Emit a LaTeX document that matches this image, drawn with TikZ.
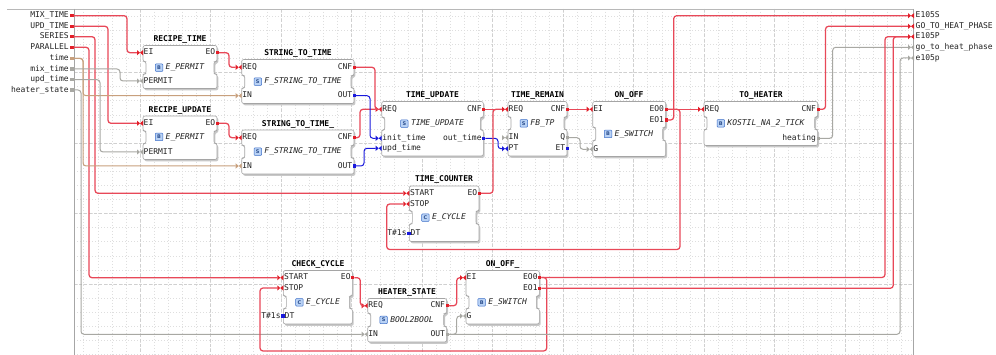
\documentclass[tikz,border=0pt]{standalone}
\usepackage{fontspec}
\setmonofont{DejaVu Sans Mono}
\setsansfont{DejaVu Sans}
\usetikzlibrary{calc}
\definecolor{evc}{RGB}{226,30,40}
\definecolor{evw}{RGB}{232,72,88}
\definecolor{blc}{RGB}{25,25,220}
\definecolor{grc}{RGB}{168,168,163}
\definecolor{tnc}{RGB}{200,160,125}
\definecolor{txt}{RGB}{35,35,35}
\definecolor{boxc}{RGB}{165,165,165}
\definecolor{shc}{RGB}{200,200,200}
\definecolor{iconf}{RGB}{185,210,245}
\definecolor{icond}{RGB}{60,110,200}
\definecolor{gridc}{RGB}{222,222,222}
\definecolor{gridm}{RGB}{208,208,208}

\newcommand\fbshape[6]{%
 \begin{scope}[shift={(1.4,1.8)}]
 \fill[shc,rounded corners=2] (#1,#3) -- (#2,#3) -- (#2,#4) -- ({#2-3},#4) -- ({#2-3},#5) -- (#2,#5) -- (#2,#6) -- (#1,#6) -- (#1,#5) -- ({#1+3},#5) -- ({#1+3},#4) -- (#1,#4) -- cycle;
 \end{scope}
 \filldraw[fill=white,draw=boxc,line width=0.6,rounded corners=2] (#1,#3) -- (#2,#3) -- (#2,#4) -- ({#2-3},#4) -- ({#2-3},#5) -- (#2,#5) -- (#2,#6) -- (#1,#6) -- (#1,#5) -- ({#1+3},#5) -- ({#1+3},#4) -- (#1,#4) -- cycle;}
\newcommand\fbtie[3]{%
 \fill[#1] ({#2-6},{#3-2.6}) -- ({#2-3},#3) -- ({#2-6},{#3+2.6}) -- cycle;
 \fill[#1] ({#2},{#3-2.6}) -- ({#2-3},#3) -- ({#2},{#3+2.6}) -- cycle;}
\newcommand\pin[5]{%
 \fbtie{#1}{#3}{#4}
 \coordinate (#2) at ({#3-6},#4);
 \node[plab,anchor=west] (#2-l) at ({#3+0.5},#4) {#5};}
\newcommand\pout[5]{%
 \fill[#1] ({#3-1.2},{#4-1.7}) rectangle ({#3+2},{#4+1.7});
 \coordinate (#2) at ({#3+2},#4);
 \node[plab,anchor=east] (#2-l) at ({#3-1.5},#4) {#5};}
\newcommand\pconst[4]{%
 \fill[blc] ({#2-2},{#3-1.7}) rectangle ({#2+1.2},{#3+1.7});
 \node[plab,anchor=west] (#1-l) at ({#2+1.2},#3) {DT};
 \node[plab,anchor=east] (#1-c) at ({#2-2.5},#3) {#4};}
\newcommand\fbtype[5]{%
 \node[ftype] (#1) at ({#2+5},#3) {#5};
 \node[ficon,anchor=east] (#1-i) at ([xshift=-2.5pt]#1.west) {#4};}
\newcommand\ifin[4]{%
 \fill[#1] (70.3,{#3-1.7}) rectangle (73.5,{#3+1.7});
 \coordinate (#2) at (73.5,#3);
 \node[plab,anchor=east] (#2-l) at (69,#3) {#4};}
\newcommand\ifout[4]{%
 \fbtie{#1}{914}{#3}
 \coordinate (#2) at (908,#3);
 \node[plab,anchor=west] (#2-l) at (915.5,#3) {#4};}

\tikzset{
 plab/.style={font=\ttfamily\fontsize{8}{8}\selectfont, inner sep=0, text=txt, text height=5.8pt, text depth=1.4pt},
 fbtitle/.style={font=\ttfamily\bfseries\fontsize{8}{8}\selectfont, inner sep=0, text=black},
 ftype/.style={font=\ttfamily\itshape\fontsize{8}{8}\selectfont, inner sep=0, text=txt, text height=5.8pt, text depth=1.4pt},
 ficon/.style={draw=icond, fill=iconf, rounded corners=0.8, minimum width=7.5, minimum height=7.5, inner sep=0, line width=0.5, font=\sffamily\bfseries\fontsize{5}{5}\selectfont, text=icond!70!black},
 ev/.style={draw=evw, line width=1.25, rounded corners=3},
 bl/.style={draw=blc, line width=1, rounded corners=3},
 gr/.style={draw=grc, line width=1, rounded corners=3},
 tn/.style={draw=tnc, line width=1, rounded corners=3},
 minorg/.style={draw=gridc, line width=0.4, dash pattern=on 1pt off 2pt},
 majorg/.style={draw=gridm, line width=0.45, dash pattern=on 3pt off 2pt},
}

\begin{document}
\begin{tikzpicture}[x=1pt,y=-1pt]
\fill[white] (0,0) rectangle (996,355);
\useasboundingbox (0,0) rectangle (996,355);
% grid
\begin{scope}
\clip (74,9) rectangle (913,355);
\foreach \i in {0,...,60} { \draw[minorg] ({69.5+14.1*\i},9) -- ({69.5+14.1*\i},355); }
\foreach \i in {0,...,25} { \draw[minorg] (74,{2+14.1*\i}) -- (913,{2+14.1*\i}); }
\foreach \i in {0,...,12} { \draw[majorg] ({69.5+70.5*\i},9) -- ({69.5+70.5*\i},355); }
\foreach \i in {1,...,4} { \draw[majorg] (74,{2+70.5*\i}) -- (913,{2+70.5*\i}); }
\end{scope}
\draw[black!28, line width=0.6] (7,9) -- (913,9);
\draw[black!35, line width=0.6] (74,9) -- (74,355);
\draw[black!35, line width=0.6] (913,9) -- (913,355);

% interface
\ifin{evc}{iMIX}{15.7}{MIX\_TIME}
\ifin{evc}{iUPD}{26.3}{UPD\_TIME}
\ifin{evc}{iSER}{36.7}{SERIES}
\ifin{evc}{iPAR}{47.3}{PARALLEL}
\ifin{tnc}{itime}{58.3}{time}
\ifin{grc}{imix}{69}{mix\_time}
\ifin{grc}{iupd}{79.7}{upd\_time}
\ifin{grc}{iheat}{90}{heater\_state}
\ifout{evc}{oE105S}{15.7}{E105S}
\ifout{evc}{oGO}{26.3}{GO\_TO\_HEAT\_PHASE}
\ifout{evc}{oE105P}{36.7}{E105P}
\ifout{grc}{ogo}{47.3}{go\_to\_heat\_phase}
\ifout{grc}{oe105p}{58}{e105p}

% RECIPE_TIME
\fbshape{143}{217}{45.5}{61.5}{74}{88.5}
\node[fbtitle] (RT) at (180,39.5) {RECIPE\_TIME};
\pin{evc}{rt-EI}{143}{52.7}{EI}
\pout{evc}{rt-EO}{217}{52.7}{EO}
\fbtype{rt-T}{180}{67.7}{B}{E\_PERMIT}
\pin{grc}{rt-PERMIT}{143}{81}{PERMIT}

% RECIPE_UPDATE
\fbshape{143}{217}{116}{131}{143.5}{159.5}
\node[fbtitle] (RU) at (180,110) {RECIPE\_UPDATE};
\pin{evc}{ru-EI}{143}{123.3}{EI}
\pout{evc}{ru-EO}{217}{123.3}{EO}
\fbtype{ru-T}{180}{137}{B}{E\_PERMIT}
\pin{grc}{ru-PERMIT}{143}{152}{PERMIT}

% STRING_TO_TIME
\fbshape{241.7}{354}{59.5}{75.5}{88}{103.5}
\node[fbtitle] (ST) at (298,53.5) {STRING\_TO\_TIME};
\pin{evc}{st-REQ}{241.7}{67.3}{REQ}
\pout{evc}{st-CNF}{354}{67.3}{CNF}
\fbtype{st-T}{298}{81.7}{S}{F\_STRING\_TO\_TIME}
\pin{tnc}{st-IN}{241.7}{95.7}{IN}
\pout{blc}{st-OUT}{354}{95.7}{OUT}

% STRING_TO_TIME_
\fbshape{241.7}{354}{130}{145.5}{158}{174}
\node[fbtitle] (ST2) at (298,124) {STRING\_TO\_TIME\_};
\pin{evc}{st2-REQ}{241.7}{137.7}{REQ}
\pout{evc}{st2-CNF}{354}{137.7}{CNF}
\fbtype{st2-T}{298}{151.7}{S}{F\_STRING\_TO\_TIME}
\pin{tnc}{st2-IN}{241.7}{166}{IN}
\pout{blc}{st2-OUT}{354}{166}{OUT}

% TIME_UPDATE
\fbshape{381.7}{483.3}{101.5}{117.5}{130}{156}
\node[fbtitle] (TU) at (432.5,95.7) {TIME\_UPDATE};
\pin{evc}{tu-REQ}{381.7}{109.3}{REQ}
\pout{evc}{tu-CNF}{483.3}{109.3}{CNF}
\fbtype{tu-T}{432.5}{123.7}{S}{TIME\_UPDATE}
\pin{blc}{tu-init}{381.7}{138.3}{init\_time}
\pin{blc}{tu-upd}{381.7}{148.3}{upd\_time}
\pout{blc}{tu-out}{483.3}{138.3}{out\_time}

% TIME_REMAIN
\fbshape{508}{567}{101.5}{117}{129.5}{156}
\node[fbtitle] (TR) at (537.5,95.5) {TIME\_REMAIN};
\pin{evc}{tr-REQ}{508}{109.3}{REQ}
\pout{evc}{tr-CNF}{567}{109.3}{CNF}
\fbtype{tr-T}{537.5}{123.3}{S}{FB\_TP}
\pin{grc}{tr-IN}{508}{137.7}{IN}
\pin{blc}{tr-PT}{508}{148.7}{PT}
\pout{grc}{tr-Q}{567}{137.7}{Q}
\pout{blc}{tr-ET}{567}{148.7}{ET}

% ON_OFF
\fbshape{592.7}{665.7}{101.5}{127.5}{140.5}{156.5}
\node[fbtitle] (OO) at (629,95.5) {ON\_OFF};
\pin{evc}{oo-EI}{592.7}{109.3}{EI}
\pout{evc}{oo-EO0}{665.7}{109.3}{EO0}
\pout{evc}{oo-EO1}{665.7}{120}{EO1}
\fbtype{oo-T}{629}{134}{B}{E\_SWITCH}
\pin{grc}{oo-G}{592.7}{149.3}{G}

% TO_HEATER
\fbshape{704}{817.7}{101.5}{117}{129.5}{145.5}
\node[fbtitle] (TH) at (761,95.5) {TO\_HEATER};
\pin{evc}{th-REQ}{704}{109.3}{REQ}
\pout{evc}{th-CNF}{817.7}{109.3}{CNF}
\fbtype{th-T}{761}{123.3}{B}{KOSTIL\_NA\_2\_TICK}
\pout{grc}{th-heat}{817.7}{138.3}{heating}

% TIME_COUNTER
\fbshape{409.3}{479}{186}{211}{224}{241.5}
\node[fbtitle] (TC) at (444,179.5) {TIME\_COUNTER};
\pin{evc}{tc-START}{409.3}{193.3}{START}
\pout{evc}{tc-EO}{479}{193.3}{EO}
\pin{evc}{tc-STOP}{409.3}{204}{STOP}
\fbtype{tc-T}{444}{217.7}{C}{E\_CYCLE}
\pconst{tc-DT}{409.3}{233.3}{T\#1s}

% CHECK_CYCLE
\fbshape{283.3}{352.3}{270.5}{296}{308.5}{324}
\node[fbtitle] (CC) at (318,264) {CHECK\_CYCLE};
\pin{evc}{cc-START}{283.3}{277.7}{START}
\pout{evc}{cc-EO}{352.3}{277.7}{EO}
\pin{evc}{cc-STOP}{283.3}{288}{STOP}
\fbtype{cc-T}{318}{302.3}{C}{E\_CYCLE}
\pconst{cc-DT}{283.3}{316}{T\#1s}

% HEATER_STATE
\fbshape{367.7}{446.7}{298.5}{313.5}{326.5}{342}
\node[fbtitle] (HS) at (407,292) {HEATER\_STATE};
\pin{evc}{hs-REQ}{367.7}{305.7}{REQ}
\pout{evc}{hs-CNF}{446.7}{305.7}{CNF}
\fbtype{hs-T}{407}{320}{S}{BOOL2BOOL}
\pin{grc}{hs-IN}{367.7}{334.3}{IN}
\pout{grc}{hs-OUT}{446.7}{334.3}{OUT}

% ON_OFF_
\fbshape{466}{539.3}{270.5}{296}{308.5}{324}
\node[fbtitle] (ON) at (502.7,264) {ON\_OFF\_};
\pin{evc}{on-EI}{466}{277.7}{EI}
\pout{evc}{on-EO0}{539.3}{277.5}{EO0}
\pout{evc}{on-EO1}{539.3}{288.3}{EO1}
\fbtype{on-T}{502.7}{302.3}{B}{E\_SWITCH}
\pin{grc}{on-G}{466}{316}{G}

% bend points
\coordinate (k1) at (680,249.5);
\coordinate (k2) at (386.7,204);
\coordinate (k3) at (546.7,351);
\coordinate (k4) at (260,288);

% wires
\draw[ev] (iMIX) -- ++(53.5,0) |- (rt-EI);
\draw[ev] (iUPD) -- ++(34.5,0) |- (ru-EI);
\draw[ev] (iSER) -- ++(21.5,0) |- (tc-START);
\draw[ev] (iPAR) -- ++(15.5,0) |- (cc-START);
\draw[tn] (itime) -- ++(9.5,0) |- (st2-IN);
\draw[tn] (itime) -- ++(9.5,0) |- (st-IN);
\draw[gr] (imix) -- ++(46.5,0) |- (rt-PERMIT);
\draw[gr] (iupd) -- ++(26.5,0) |- (ru-PERMIT);
\draw[gr] (iheat) -- ++(7.5,0) |- (hs-IN);
\draw[ev] (rt-EO) -- ++(10,0) |- (st-REQ);
\draw[ev] (ru-EO) -- ++(10,0) |- (st2-REQ);
\draw[ev] (st-CNF) -- ++(19,0) |- (tu-REQ);
\draw[ev] (st2-CNF) -- ++(4,0) |- (tu-REQ);
\draw[bl] (st-OUT) -- ++(14,0) |- (tu-init);
\draw[bl] (st2-OUT) -- ++(8,0) |- (tu-upd);
\draw[ev] (tu-CNF) -- (tr-REQ);
\draw[bl] (tu-out) -- ++(12.7,0) |- (tr-PT);
\draw[ev] (tc-EO) -- ++(12,0) |- (tr-REQ);
\draw[ev] (tr-CNF) -- (oo-EI);
\draw[gr] (tr-Q) -- ++(11,0) |- (oo-G);
\draw[ev] (oo-EO0) -- (th-REQ);
\draw[ev] (oo-EO0) -| (k1) -| (k2) -- (tc-STOP);
\draw[ev] (oo-EO1) -- ++(6,0) |- (oE105S);
\draw[ev] (th-CNF) -- ++(5.8,0) |- (oGO);
\draw[gr] (th-heat) -- ++(13,0) |- (ogo);
\draw[ev] (on-EO0) -- ++(343.7,0) |- (oE105P);
\draw[ev] (on-EO1) -- ++(352,0) |- (oE105P);
\draw[ev] (on-EO0) -| (k3) -| (k4) -- (cc-STOP);
\draw[ev] (cc-EO) -- ++(6,0) |- (hs-REQ);
\draw[ev] (hs-CNF) -- ++(8,0) |- (on-EI);
\draw[gr] (hs-OUT) -- ++(8,0) |- (on-G);
\draw[gr] (hs-OUT) -- ++(451.3,0) |- (oe105p);
\end{tikzpicture}
\end{document}
